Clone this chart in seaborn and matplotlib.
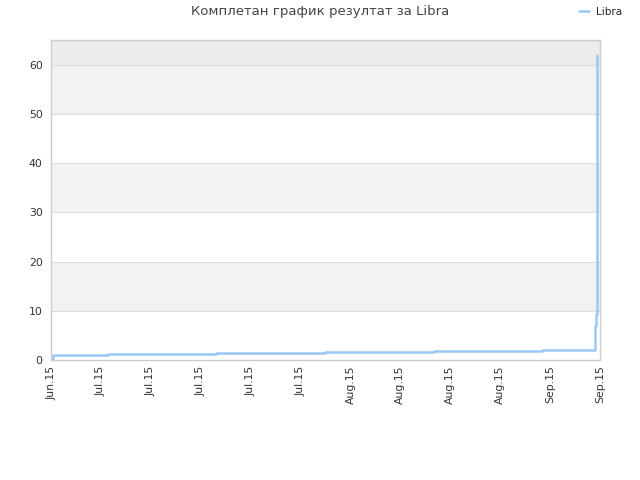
import numpy as np
import pandas as pd
import matplotlib
matplotlib.use("Agg")
from matplotlib import pyplot as plt
import seaborn as sns

# data (x in tick units, 10 units per tick)
step_x = [0.3, 0.35, 11.5, 33.1, 55.0, 76.7, 98.4, 108.9, 109.1, 109.3]
step_y = [0.0, 1.1, 1.3, 1.5, 1.7, 1.9, 2.1, 6.9, 9.3, 62.0]
tick_labels = ["Jun.15", "Jul.15", "Jul.15", "Jul.15", "Jul.15", "Jul.15",
               "Aug.15", "Aug.15", "Aug.15", "Aug.15", "Sep.15", "Sep.15"]
title = "Комплетан график резултат за Libra"
series_name = "Libra"

sns.set_style("white")
plt.rcParams['font.family'] = ['DejaVu Sans']

fig = plt.figure(figsize=(6.4, 4.8), dpi=100)
ax = fig.add_axes([51 / 640, 120 / 480, 549 / 640, 320 / 480])

# alternating horizontal bands
bands = [(10, 20, "#f2f2f2"), (30, 40, "#f2f2f2"), (50, 60, "#f2f2f2"), (60, 65, "#ececec")]
for lo, hi, col in bands:
    ax.axhspan(lo, hi, color=col, zorder=0, lw=0)
for yv in range(10, 70, 10):
    ax.axhline(yv, color="#dddddd", lw=0.8, zorder=1)

df = pd.DataFrame({"x": step_x, "y": step_y})
sns.lineplot(data=df, x="x", y="y", ax=ax, color="#99c8f5", lw=1.8,
             drawstyle="steps-post", label=series_name, zorder=3)

ax.set_xlim(0, 110)
ax.set_ylim(0, 65)
ax.set_xticks(np.arange(0, 111, 10))
ax.set_xticklabels(tick_labels, rotation=90, fontsize=7.8, color="#333333")
ax.set_yticks(np.arange(0, 61, 10))
ax.tick_params(axis="y", labelsize=7.8, colors="#333333", length=0, pad=6)
ax.tick_params(axis="x", length=0, pad=4)
ax.set_xlabel("")
ax.set_ylabel("")
for sp in ax.spines.values():
    sp.set_color("#cccccc")
    sp.set_linewidth(1)

fig.text(0.5, 1 - 12 / 480, title, ha="center", va="center", fontsize=9.5, color="#444444")
ax.legend(loc="center right", bbox_to_anchor=(626 / 640, 1 - 12 / 480),
          bbox_transform=fig.transFigure, frameon=False, fontsize=7.5,
          handlelength=1.0, handletextpad=0.6, borderaxespad=0)

fig.savefig("out.png", dpi=100)
